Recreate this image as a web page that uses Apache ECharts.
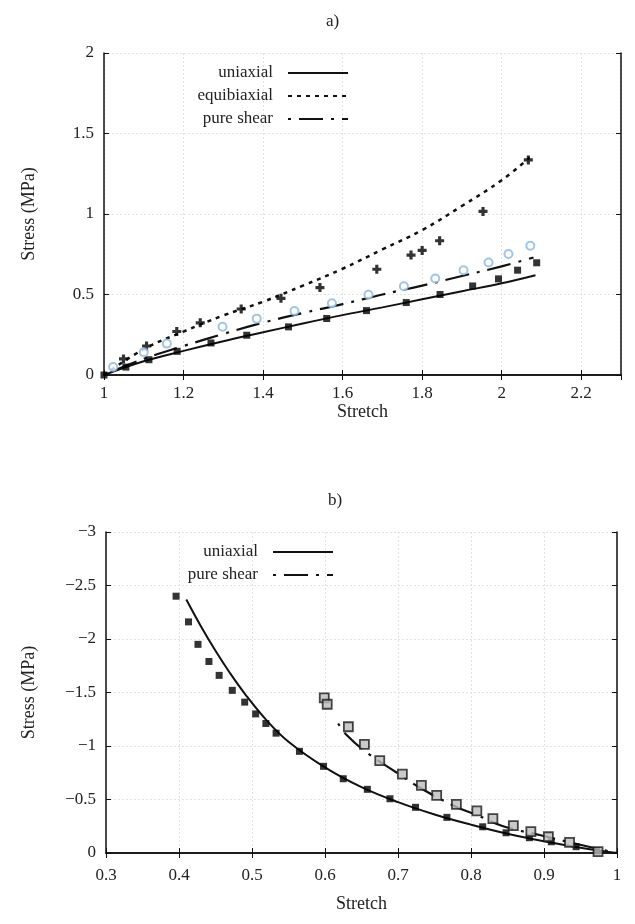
<!DOCTYPE html>
<html><head><meta charset="utf-8">
<script src="https://cdn.jsdelivr.net/npm/echarts@6/dist/echarts.min.js"></script>
<style>html,body{margin:0;padding:0;background:#fff}#c{width:635px;height:924px}</style>
</head><body><div id="c"></div>
<script>
// ---------- Panel a) tension ----------
const aUniData = [[1,0],[1.055,0.049],[1.113,0.095],[1.184,0.147],[1.269,0.199],[1.359,0.247],[1.464,0.299],[1.56,0.351],[1.66,0.40],[1.76,0.45],[1.845,0.50],[1.927,0.553],[1.992,0.597],[2.04,0.651],[2.088,0.697]];
const aEquiData = [[1.049,0.10],[1.107,0.18],[1.183,0.27],[1.242,0.324],[1.345,0.41],[1.445,0.476],[1.543,0.543],[1.686,0.657],[1.772,0.745],[1.80,0.774],[1.844,0.834],[1.953,1.016],[2.067,1.336]];
const aShearData = [[1.023,0.05],[1.10,0.142],[1.158,0.195],[1.298,0.30],[1.384,0.35],[1.479,0.397],[1.573,0.445],[1.665,0.499],[1.754,0.551],[1.833,0.599],[1.904,0.651],[1.967,0.699],[2.017,0.751],[2.072,0.803]];
const aUniModel = [[1,0],[1.1,0.085],[1.2,0.15],[1.3,0.21],[1.4,0.265],[1.5,0.32],[1.6,0.372],[1.7,0.42],[1.8,0.47],[1.9,0.52],[2.0,0.57],[2.085,0.62]];
const aEquiModel = [[1,0],[1.1,0.16],[1.2,0.27],[1.3,0.37],[1.4,0.455],[1.5,0.555],[1.6,0.66],[1.7,0.78],[1.8,0.90],[1.9,1.05],[2.0,1.21],[2.07,1.35]];
const aShearModel = [[1,0],[1.1,0.1],[1.2,0.18],[1.3,0.255],[1.4,0.325],[1.5,0.385],[1.6,0.44],[1.7,0.5],[1.8,0.555],[1.9,0.615],[2.0,0.675],[2.08,0.73]];
// ---------- Panel b) compression ----------
const bUniData = [[0.396,-2.40],[0.413,-2.16],[0.426,-1.95],[0.441,-1.79],[0.455,-1.66],[0.473,-1.52],[0.49,-1.41],[0.505,-1.30],[0.519,-1.21],[0.533,-1.12],[0.565,-0.95],[0.598,-0.81],[0.625,-0.694],[0.658,-0.595],[0.689,-0.507],[0.724,-0.427],[0.767,-0.333],[0.816,-0.245],[0.848,-0.189],[0.88,-0.143],[0.91,-0.105],[0.944,-0.059],[0.972,-0.021]];
const bShearData = [[0.599,-1.45],[0.603,-1.39],[0.632,-1.18],[0.654,-1.016],[0.675,-0.863],[0.706,-0.738],[0.732,-0.632],[0.753,-0.539],[0.78,-0.455],[0.808,-0.393],[0.83,-0.321],[0.858,-0.255],[0.882,-0.199],[0.906,-0.152],[0.935,-0.10],[0.974,-0.012]];
const bUniModel = [[0.41,-2.37],[0.43,-2.12],[0.45,-1.89],[0.47,-1.68],[0.49,-1.49],[0.52,-1.24],[0.55,-1.04],[0.6,-0.80],[0.65,-0.615],[0.7,-0.475],[0.75,-0.36],[0.8,-0.265],[0.85,-0.18],[0.9,-0.11],[0.95,-0.05],[1,0]];
const bShearModel = [[0.618,-1.21],[0.63,-1.10],[0.657,-0.94],[0.703,-0.73],[0.73,-0.61],[0.78,-0.43],[0.808,-0.355],[0.844,-0.25],[0.894,-0.168],[0.945,-0.084],[1,0]];

const aLegend = ['uniaxial','equibiaxial','pure shear'];
const bLegend = ['uniaxial','pure shear'];

const FONT = 'Liberation Serif';
const txt = {fontFamily: FONT, fontSize: 17, color: '#222'};
const fmt = v => String(v).replace('-', '\u2212');
const dashShear = [3,8,24,8];
const dashEqui = [4,5];

function mainX(grid, min, max, interval, nameGap, labelMargin) {
  return {gridIndex: grid, type: 'value', min, max, interval, position: 'bottom',
    name: 'Stretch', nameLocation: 'middle', nameGap, nameTextStyle: {...txt, fontSize: 18},
    axisLine: {lineStyle: {color: '#111', width: 1.5}},
    axisTick: {inside: true, length: 5, lineStyle: {color: '#111'}},
    axisLabel: {...txt, margin: labelMargin, showMaxLabel: max === 1, formatter: fmt},
    splitLine: {show: true, lineStyle: {color: '#e2e2e2', type: [2,2]}}};
}
function mirrorX(grid, min, max, interval) {
  return {gridIndex: grid, type: 'value', min, max, interval, position: 'top',
    axisLine: {lineStyle: {color: '#111', width: 1.5}},
    axisTick: {inside: true, length: 5, lineStyle: {color: '#111'}},
    axisLabel: {show: false}, splitLine: {show: false}};
}
function mainY(grid, min, max, interval, inverse, nameGap) {
  return {gridIndex: grid, type: 'value', min, max, interval, inverse, position: 'left',
    name: 'Stress (MPa)', nameLocation: 'middle', nameGap, nameTextStyle: {...txt, fontSize: 18},
    axisLine: {show: true, lineStyle: {color: '#111', width: 1.5}},
    axisTick: {show: true, inside: true, length: 5, lineStyle: {color: '#111'}},
    axisLabel: {...txt, margin: 10, formatter: fmt},
    splitLine: {show: true, lineStyle: {color: '#e2e2e2', type: [2,2]}}};
}
function mirrorY(grid, min, max, interval, inverse) {
  return {gridIndex: grid, type: 'value', min, max, interval, inverse, position: 'right',
    axisLine: {show: true, lineStyle: {color: '#111', width: 1.5}},
    axisTick: {show: true, inside: true, length: 5, lineStyle: {color: '#111'}},
    axisLabel: {show: false}, splitLine: {show: false}};
}
function lineS(name, data, xi, yi, type, width) {
  return {name, type: 'line', data, xAxisIndex: xi, yAxisIndex: yi, smooth: 0.4,
    symbol: 'none', color: '#111', itemStyle: {color: '#111'},
    lineStyle: {color: '#111', width, type}, z: 3, animation: false};
}
function scat(name, data, xi, yi, symbol, size, itemStyle) {
  return {name, type: 'scatter', data, xAxisIndex: xi, yAxisIndex: yi, symbol, symbolSize: size,
    itemStyle, z: 4, animation: false};
}
const plusPath = 'path://M2.6,0H5.4V2.6H8V5.4H5.4V8H2.6V5.4H0V2.6H2.6Z';

const legendBase = {orient: 'vertical', align: 'right', itemWidth: 60, itemHeight: 12, itemGap: 5,
  itemStyle: {opacity: 0},
  textStyle: {...txt, width: 175, align: 'right', lineHeight: 18, padding: [0, 10, 0, 0]}};

const option = {
  backgroundColor: '#fff',
  animation: false,
  title: [
    {text: 'a)', left: 321, top: 8, textStyle: {...txt, fontWeight: 'normal', fontSize: 17}},
    {text: 'b)', left: 323, top: 487, textStyle: {...txt, fontWeight: 'normal', fontSize: 17}}
  ],
  legend: [
    {...legendBase, data: aLegend, left: 93, top: 59},
    {...legendBase, data: bLegend, left: 78, top: 538}
  ],
  grid: [
    {left: 104, right: 14, top: 53, height: 322},
    {left: 106, right: 18, top: 532, height: 321}
  ],
  xAxis: [
    mainX(0, 1, 2.3, 0.2, 24, 10),
    mirrorX(0, 1, 2.3, 0.2),
    mainX(1, 0.3, 1, 0.1, 42, 14),
    mirrorX(1, 0.3, 1, 0.1)
  ],
  yAxis: [
    mainY(0, 0, 2, 0.5, false, 66),
    mirrorY(0, 0, 2, 0.5, false),
    mainY(1, -3, 0, 0.5, true, 68),
    mirrorY(1, -3, 0, 0.5, true)
  ],
  series: [
    lineS('uniaxial', aUniModel, 0, 0, 'solid', 2),
    lineS('equibiaxial', aEquiModel, 0, 0, dashEqui, 2.5),
    lineS('pure shear', aShearModel, 0, 0, dashShear, 2.2),
    scat('uniaxial data a', aUniData, 0, 0, 'rect', 7, {color: '#000'}),
    scat('equibiaxial data a', aEquiData, 0, 0, plusPath, 9, {color: '#000'}),
    scat('pure shear data a', aShearData, 0, 0, 'emptyCircle', 8, {color: '#8ab6dc', borderWidth: 1}),
    lineS('uniaxial', bUniModel, 2, 2, 'solid', 2),
    lineS('pure shear', bShearModel, 2, 2, dashShear, 2.2),
    scat('uniaxial data b', bUniData, 2, 2, 'rect', 7, {color: '#000'}),
    scat('pure shear data b', bShearData, 2, 2, 'rect', 9, {color: '#bdbdbd', borderColor: '#1a1a1a', borderWidth: 1.8})
  ]
};
const chart = echarts.init(document.getElementById('c'), null, {renderer: 'canvas'});
chart.setOption(option);
</script></body></html>
